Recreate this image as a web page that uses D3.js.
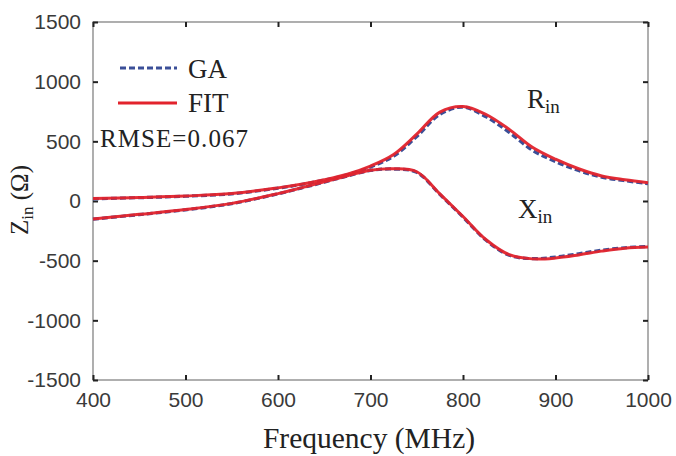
<!DOCTYPE html>
<html>
<head>
<meta charset="utf-8">
<script src="https://cdn.jsdelivr.net/npm/d3@7"></script>
<style>
  body { margin: 0; background: #fff; }
  svg { display: block; }
  .serif { font-family: 'Liberation Serif', 'DejaVu Serif', serif; }
</style>
</head>
<body>
<svg id="chart" width="676" height="456"></svg>
<script>
// Data (MHz, Ohm)
const freq = [400, 450, 500, 550, 600, 625, 650, 675, 700, 725, 750, 775, 800, 825, 850, 875, 900, 925, 950, 975, 1000];
const rinFit = [20, 30, 42, 62, 110, 140, 178, 225, 293, 390, 560, 745, 792, 725, 600, 450, 350, 270, 210, 178, 153];
const rinGa = [18, 28, 40, 60, 108, 138, 175, 220, 285, 375, 540, 725, 787, 705, 575, 425, 330, 255, 200, 170, 145];
const xinFit = [-150, -112, -72, -20, 62, 110, 160, 212, 258, 270, 245, 60, -130, -325, -450, -485, -478, -452, -420, -395, -385];
const xinGa = [-152, -114, -74, -22, 60, 108, 158, 210, 256, 268, 240, 55, -135, -330, -455, -483, -470, -442, -412, -392, -382];
const xTicks = [400, 500, 600, 700, 800, 900, 1000];
const yTicks = [-1500, -1000, -500, 0, 500, 1000, 1500];

const margin = { top: 22, right: 28, bottom: 76, left: 93 };
const width = 676 - margin.left - margin.right;
const height = 456 - margin.top - margin.bottom;

const svg = d3.select('#chart')
  .append('g')
  .attr('transform', `translate(${margin.left},${margin.top})`);

const x = d3.scaleLinear().domain([400, 1000]).range([0, width]);
const y = d3.scaleLinear().domain([-1500, 1500]).range([height, 0]);

// Frame
svg.append('rect')
  .attr('width', width)
  .attr('height', height)
  .attr('fill', 'none')
  .attr('stroke', '#7a7a7a')
  .attr('stroke-width', 1.2);

// Axes, ticks pointing inward
const styleAxis = (g) => {
  g.select('.domain').remove();
  g.selectAll('.tick line').attr('stroke', '#222').attr('stroke-width', 2);
  g.selectAll('.tick text')
    .attr('fill', '#3a3a3a')
    .attr('font-family', 'Liberation Sans, Arial, sans-serif')
    .attr('font-size', 21);
};
const plain = (d) => String(d);

svg.append('g')
  .attr('transform', `translate(0,${height})`)
  .call(d3.axisBottom(x).tickValues(xTicks).tickSize(-5).tickPadding(12).tickFormat(plain))
  .call(styleAxis);

svg.append('g')
  .call(d3.axisLeft(y).tickValues(yTicks).tickSize(-5).tickPadding(12).tickFormat(plain))
  .call(styleAxis);

svg.append('g')
  .call(d3.axisTop(x).tickValues(xTicks).tickSize(-5).tickFormat(''))
  .call(styleAxis);

svg.append('g')
  .attr('transform', `translate(${width},0)`)
  .call(d3.axisRight(y).tickValues(yTicks).tickSize(-5).tickFormat(''))
  .call(styleAxis);

// Lines
const line = d3.line()
  .curve(d3.curveCatmullRom)
  .x((d) => x(d[0]))
  .y((d) => y(d[1]));

const gaColor = '#3b4f98';
const fitColor = '#e2232c';

[rinGa, xinGa].forEach((vals) => {
  svg.append('path')
    .datum(freq.map((f, i) => [f, vals[i]]))
    .attr('fill', 'none')
    .attr('stroke', gaColor)
    .attr('stroke-width', 3.2)
    .attr('stroke-dasharray', '6,3')
    .attr('d', line);
});

[rinFit, xinFit].forEach((vals) => {
  svg.append('path')
    .datum(freq.map((f, i) => [f, vals[i]]))
    .attr('fill', 'none')
    .attr('stroke', fitColor)
    .attr('stroke-width', 3)
    .attr('opacity', 0.95)
    .attr('d', line);
});

// Legend
svg.append('line')
  .attr('x1', 27).attr('x2', 84).attr('y1', 46).attr('y2', 46)
  .attr('stroke', gaColor).attr('stroke-width', 3.2).attr('stroke-dasharray', '6,3');
svg.append('line')
  .attr('x1', 25).attr('x2', 84).attr('y1', 81).attr('y2', 81)
  .attr('stroke', fitColor).attr('stroke-width', 3);

const addText = (tx, ty, str, size) => svg.append('text')
  .attr('class', 'serif')
  .attr('x', tx).attr('y', ty)
  .attr('fill', '#222')
  .attr('font-size', size)
  .text(str);

addText(95, 56, 'GA', 27);
addText(95, 90, 'FIT', 27);
addText(7, 125, 'RMSE=0.067', 25).attr('textLength', 148);

// Curve labels
const sub = (tx, ty, main, s) => {
  const t = svg.append('text')
    .attr('class', 'serif')
    .attr('x', tx).attr('y', ty)
    .attr('fill', '#222')
    .attr('font-size', 27);
  t.append('tspan').text(main);
  t.append('tspan').attr('dy', 5).attr('font-size', 19).text(s);
};
sub(434, 86, 'R', 'in');
sub(425, 196, 'X', 'in');

// Axis titles
d3.select('#chart').append('text')
  .attr('class', 'serif')
  .attr('x', 369).attr('y', 448)
  .attr('text-anchor', 'middle')
  .attr('fill', '#222')
  .attr('font-size', 29.5)
  .text('Frequency (MHz)');

const yl = d3.select('#chart').append('text')
  .attr('class', 'serif')
  .attr('transform', 'translate(28,200) rotate(-90)')
  .attr('text-anchor', 'middle')
  .attr('fill', '#222')
  .attr('font-size', 25);
yl.append('tspan').text('Z');
yl.append('tspan').attr('dy', 5).attr('font-size', 17).text('in');
yl.append('tspan').attr('dy', -5).text(' (Ω)');
</script>
</body>
</html>
